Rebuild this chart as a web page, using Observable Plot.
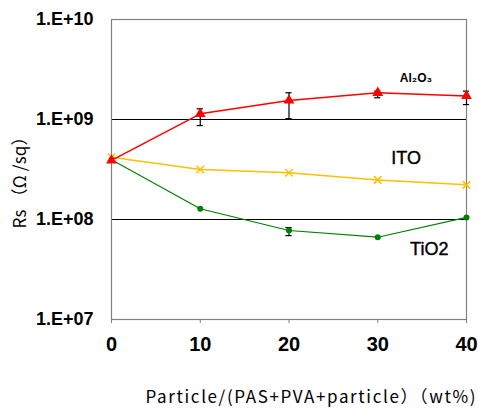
<!DOCTYPE html>
<html>
<head>
<meta charset="utf-8">
<script src="https://cdn.jsdelivr.net/npm/d3@7"></script>
<script src="https://cdn.jsdelivr.net/npm/@observablehq/plot@0.6"></script>
<style>
  html, body { margin: 0; padding: 0; background: #fff; }
  #chart svg { display: block; }
</style>
</head>
<body>
<div id="chart"></div>
<script>
const xValues = [0, 10, 20, 30, 40];
const al2o3 = [3.9e8, 1.14e9, 1.55e9, 1.85e9, 1.72e9];
const al2o3Hi = [null, 1.28e9, 1.85e9, 1.92e9, 1.92e9];
const al2o3Lo = [null, 8.7e8, 1.02e9, 1.65e9, 1.41e9];
const ito = [4.2e8, 3.16e8, 2.93e8, 2.49e8, 2.22e8];
const tio2 = [3.95e8, 1.28e8, 7.76e7, 6.65e7, 1.05e8];
const tio2Hi = [null, null, 8.3e7, null, null];
const tio2Lo = [null, null, 6.9e7, null, null];
const yTicks = [1e7, 1e8, 1e9, 1e10];
const yTickLabels = ["1.E+07", "1.E+08", "1.E+09", "1.E+10"];
const gridValues = [1e8, 1e9];
const seriesLabels = [
  {name: "Al₂O₃", x: 34.3, y: 2.6e9, weight: "bold"},
  {name: "ITO", x: 33.2, y: 4.1e8, weight: "normal"},
  {name: "TiO2", x: 35.8, y: 5.1e7, weight: "normal"}
];
const xLabel = "Particle/(PAS+PVA+particle）（wt%)";
const yLabel = "Rs （Ω /sq）";

const rows = (vals) => xValues.map((x, i) => ({x, y: vals[i]}));
const errs = (hi, lo) => xValues.map((x, i) => ({x, hi: hi[i], lo: lo[i]})).filter(d => d.hi != null);
const allErr = errs(al2o3Hi, al2o3Lo).concat(errs(tio2Hi, tio2Lo));
const capW = 0.35;

const plot = Plot.plot({
  width: 478,
  height: 410,
  marginLeft: 111,
  marginRight: 12,
  marginTop: 19,
  marginBottom: 91,
  style: {fontFamily: "Liberation Sans, Arial, sans-serif", background: "#fff"},
  x: {domain: [0, 40], label: null},
  y: {type: "log", domain: [1e7, 1e10], label: null},
  marks: [
    Plot.ruleY(gridValues, {stroke: "#000", strokeWidth: 1}),
    Plot.frame({stroke: "#808080", strokeWidth: 1.2}),
    Plot.axisX({ticks: xValues, tickSize: 4, tickPadding: 13, fontSize: 20, fontWeight: "bold", stroke: "#808080", fill: "#000", tickFormat: d => String(d)}),
    Plot.axisY({ticks: yTicks, tickSize: 0, tickPadding: 18, fontSize: 18, fontWeight: "bold", fill: "#000",
      tickFormat: d => yTickLabels[yTicks.indexOf(d)]}),
    Plot.line(rows(tio2), {x: "x", y: "y", stroke: "#008000", strokeWidth: 1.2}),
    Plot.line(rows(ito), {x: "x", y: "y", stroke: "#ffc000", strokeWidth: 1.5}),
    Plot.line(rows(al2o3), {x: "x", y: "y", stroke: "#ff0000", strokeWidth: 1.5}),
    Plot.ruleX(allErr, {x: "x", y1: "lo", y2: "hi", stroke: "#000", strokeWidth: 1.2}),
    Plot.ruleY(allErr, {y: "hi", x1: d => d.x - capW, x2: d => d.x + capW, stroke: "#000", strokeWidth: 1.2}),
    Plot.ruleY(allErr, {y: "lo", x1: d => d.x - capW, x2: d => d.x + capW, stroke: "#000", strokeWidth: 1.2}),
    Plot.dot(rows(tio2), {x: "x", y: "y", symbol: "circle", fill: "#008000", r: 3}),
    Plot.dot(rows(ito), {x: "x", y: "y", symbol: "times", stroke: "#ffc000", r: 3.5, strokeWidth: 1.5}),
    Plot.dot(rows(al2o3), {x: "x", y: "y", symbol: "triangle", fill: "#ff0000", r: 4}),
    Plot.text(seriesLabels.filter(d => d.weight === "bold"), {x: "x", y: "y", text: "name", fontSize: 12, fill: "#000", fontWeight: "bold"}),
    Plot.text(seriesLabels.filter(d => d.weight !== "bold"), {x: "x", y: "y", text: "name", fontSize: 18, fill: "#000", stroke: "#000", strokeWidth: 0.4}),
    Plot.text([xLabel], {frameAnchor: "bottom", textAnchor: "middle", lineAnchor: "middle", dy: 78, dx: 21.5, fontSize: 17, fontFamily: "Noto Sans CJK JP, sans-serif", className: "xlab"}),
    Plot.text([yLabel], {frameAnchor: "left", textAnchor: "middle", lineAnchor: "middle", rotate: -90, dx: -91, dy: 9, fontSize: 17, fontFamily: "Noto Sans CJK JP, sans-serif", className: "ylab"})
  ]
});
d3.select(plot).selectAll(".xlab text").attr("textLength", 330).attr("lengthAdjust", "spacing");
d3.select(plot).selectAll(".ylab text").attr("textLength", 100).attr("lengthAdjust", "spacing");
document.getElementById("chart").appendChild(plot);
</script>
</body>
</html>
